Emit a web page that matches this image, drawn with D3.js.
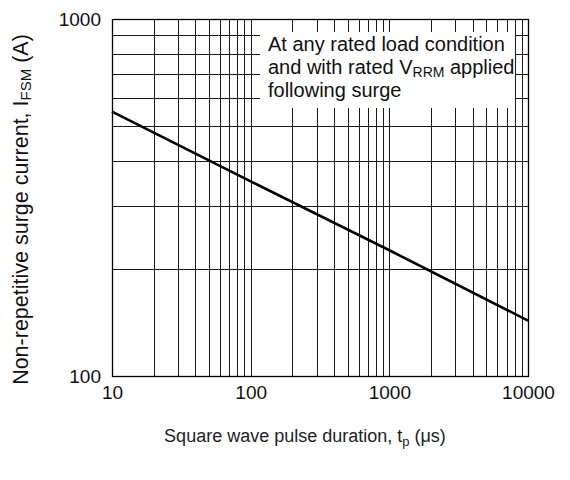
<!DOCTYPE html>
<html>
<head>
<meta charset="utf-8">
<script src="https://cdn.jsdelivr.net/npm/d3@7"></script>
<style>
  body { margin: 0; background: #fff; }
  svg { font-family: "Liberation Sans", Arial, sans-serif; }
</style>
</head>
<body>
<svg id="chart" width="570" height="480"></svg>
<script>
// surge current vs pulse duration
const pulseDuration = [10, 100, 1000, 10000];     // us
const surgeCurrent = [550, 351, 225, 143];          // A
const xTicks = [10, 100, 1000, 10000];
const yTicks = [100, 1000];
const noteLines = ["At any rated load condition", "and with rated V", "following surge"];

const margin = {top: 19, right: 42, bottom: 104, left: 112};
const width = 570 - margin.left - margin.right;
const height = 480 - margin.top - margin.bottom;

const svg = d3.select("#chart")
  .append("g")
  .attr("transform", "translate(" + margin.left + "," + margin.top + ")");

const x = d3.scaleLog().domain([10, 10000]).range([0, width]);
const y = d3.scaleLog().domain([100, 1000]).range([height, 0]);

// minor grid 2..9 per decade
const xGrid = [];
for (let d = 10; d < 10000; d *= 10) for (let k = 2; k <= 9; k++) xGrid.push(d * k);
const yGrid = [];
for (let k = 2; k <= 9; k++) yGrid.push(100 * k);

svg.append("g")
  .selectAll("line")
  .data(xGrid.concat([100, 1000]))
  .join("line")
    .attr("x1", d => Math.round(x(d)) + 0.5)
    .attr("x2", d => Math.round(x(d)) + 0.5)
    .attr("y1", 0)
    .attr("y2", height)
    .attr("stroke", "#1a1a1a")
    .attr("stroke-width", 1);

svg.append("g")
  .selectAll("line")
  .data(yGrid)
  .join("line")
    .attr("x1", 0)
    .attr("x2", width)
    .attr("y1", d => Math.round(y(d)) + 0.5)
    .attr("y2", d => Math.round(y(d)) + 0.5)
    .attr("stroke", "#1a1a1a")
    .attr("stroke-width", 1);

svg.append("rect")
  .attr("x", 0.5).attr("y", 0.5)
  .attr("width", width).attr("height", height)
  .attr("fill", "none")
  .attr("stroke", "#000")
  .attr("stroke-width", 1.3);

// note box
svg.append("rect")
  .attr("x", 148).attr("y", 13)
  .attr("width", 255).attr("height", 76)
  .attr("fill", "#fff");

const note = svg.append("g")
  .attr("font-size", 20)
  .attr("fill", "#111");
note.append("text").attr("x", 156).attr("y", 32).text(noteLines[0]);
const l2 = note.append("text").attr("x", 156).attr("y", 55).text(noteLines[1]);
l2.append("tspan").attr("font-size", 14).attr("dy", 3).text("RRM");
l2.append("tspan").attr("dy", -3).text(" applied");
note.append("text").attr("x", 156).attr("y", 78).text(noteLines[2]);

// curve
const line = d3.line()
  .x((d, i) => x(pulseDuration[i]))
  .y(d => y(d));

svg.append("path")
  .datum(surgeCurrent)
  .attr("d", line)
  .attr("fill", "none")
  .attr("stroke", "#000")
  .attr("stroke-width", 2.6);

// axes
svg.append("g")
  .attr("transform", "translate(0," + height + ")")
  .call(d3.axisBottom(x).tickValues(xTicks).tickFormat(d3.format("d")).tickSize(0).tickPadding(10))
  .call(g => g.select(".domain").remove())
  .selectAll("text")
    .attr("font-size", 19)
    .attr("font-family", "Liberation Sans, Arial, sans-serif")
    .attr("fill", "#111");

svg.append("g")
  .call(d3.axisLeft(y).tickValues(yTicks).tickFormat(d3.format("d")).tickSize(0).tickPadding(11))
  .call(g => g.select(".domain").remove())
  .selectAll("text")
    .attr("font-size", 19)
    .attr("font-family", "Liberation Sans, Arial, sans-serif")
    .attr("fill", "#111");

// x label
const xl = svg.append("text")
  .attr("x", width / 2 - 15)
  .attr("y", height + 66)
  .attr("text-anchor", "middle")
  .attr("font-size", 18)
  .attr("fill", "#222")
  .text("Square wave pulse duration, t");
xl.append("tspan").attr("font-size", 13).attr("dy", 4).text("p");
xl.append("tspan").attr("dy", -4).text(" (\u03bcs)");

// y label
const yl = svg.append("text")
  .attr("transform", "translate(" + (-84) + "," + (height / 2 + 12) + ") rotate(-90)")
  .attr("text-anchor", "middle")
  .attr("font-size", 21.5)
  .attr("fill", "#111")
  .text("Non-repetitive surge current, I");
yl.append("tspan").attr("font-size", 15).attr("dy", 3).text("FSM");
yl.append("tspan").attr("dy", -3).text(" (A)");
</script>
</body>
</html>
